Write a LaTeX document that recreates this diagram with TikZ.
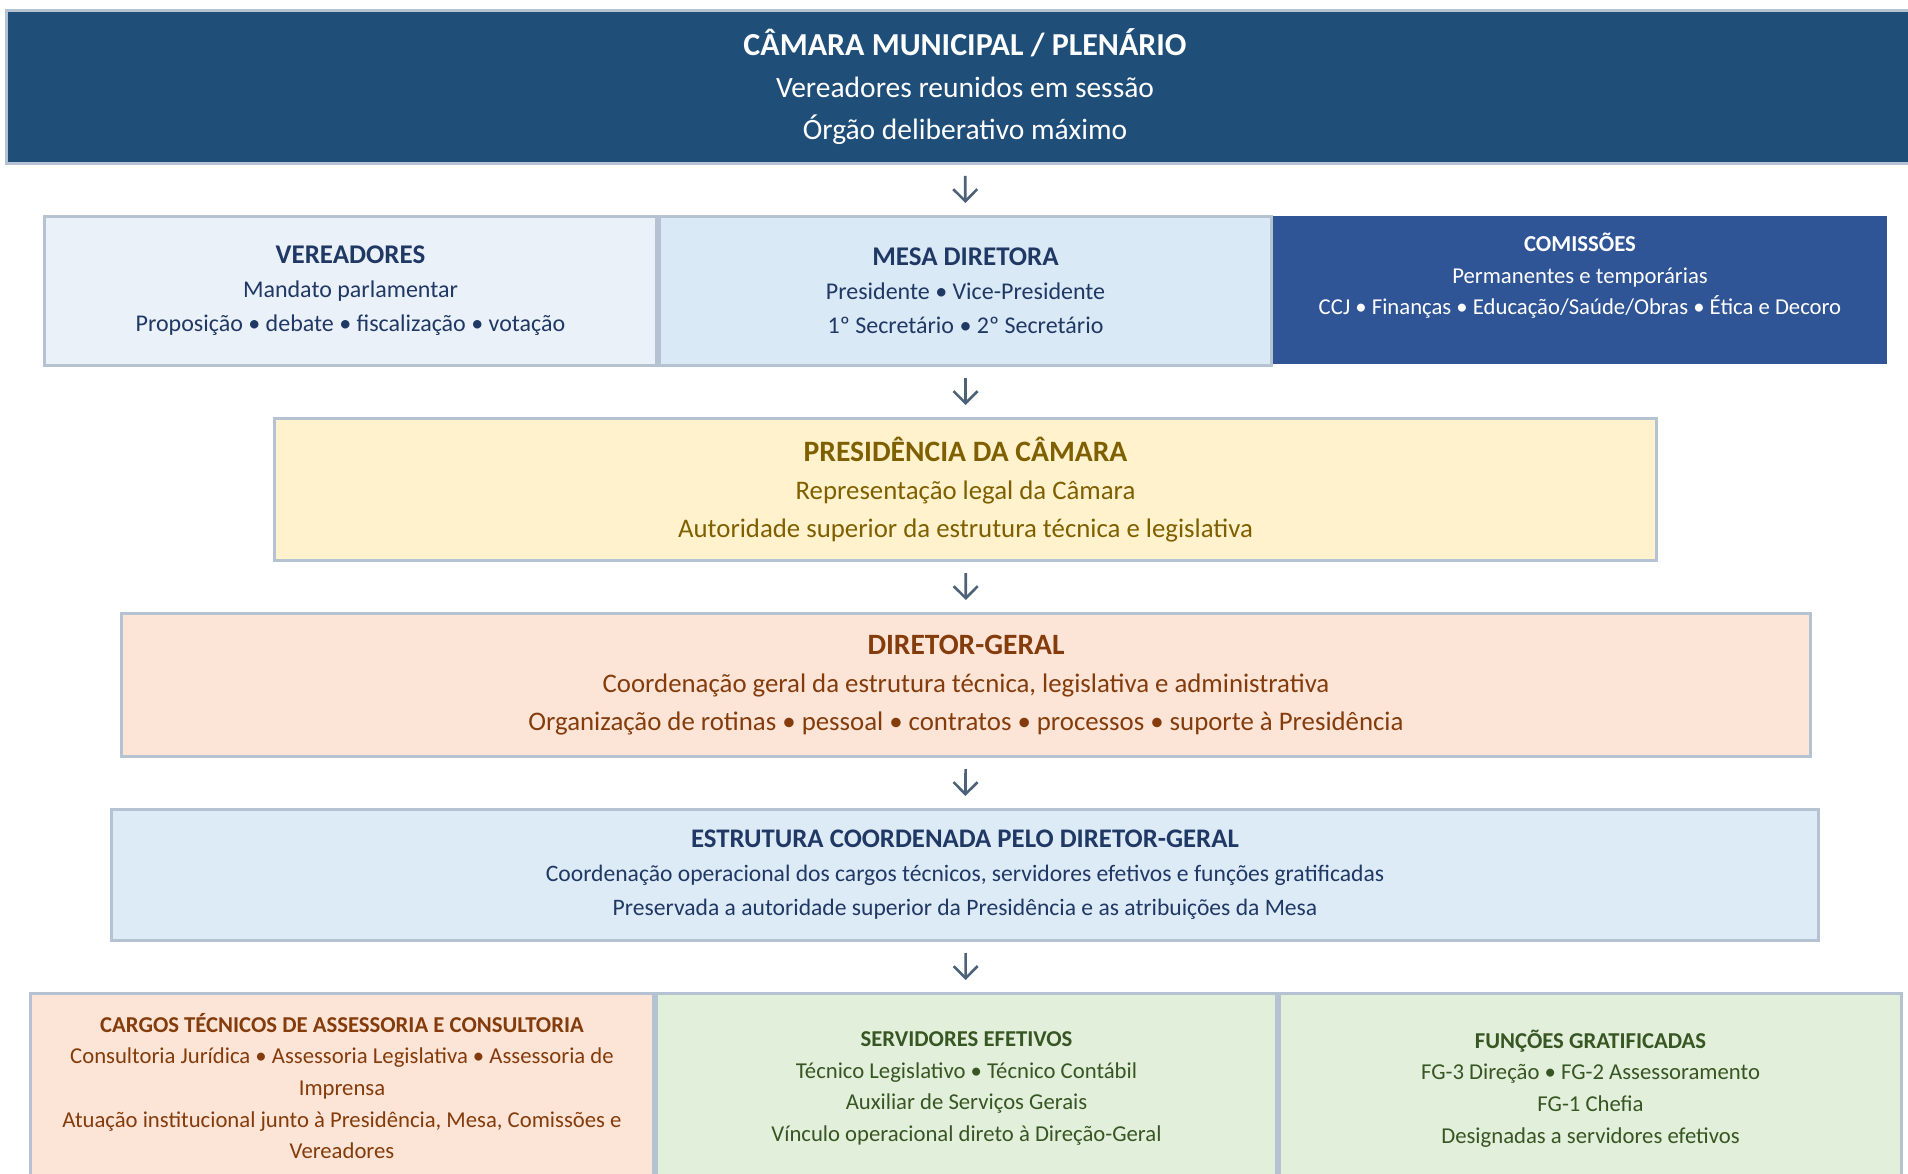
\documentclass[tikz,border=0pt]{standalone}
\usepackage{fontspec}
\setmainfont{Carlito}
\usetikzlibrary{arrows.meta}

\definecolor{borda}{HTML}{B4C2D1}
\definecolor{setacor}{HTML}{4D6278}
\definecolor{plenario}{HTML}{1F4E79}
\definecolor{vereador}{HTML}{EAF1F8}
\definecolor{mesadir}{HTML}{DAE9F6}
\definecolor{comissao}{HTML}{2F5597}
\definecolor{presid}{HTML}{FFF2CC}
\definecolor{diretor}{HTML}{FCE4D6}
\definecolor{estrut}{HTML}{DDEBF7}
\definecolor{verde}{HTML}{E2EFDA}
\definecolor{azultxt}{HTML}{1F3864}
\definecolor{ourotxt}{HTML}{7F6000}
\definecolor{marromtxt}{HTML}{843C0C}
\definecolor{verdetxt}{HTML}{375623}

\begin{document}
\begin{tikzpicture}[x=1pt,y=-1pt,
    caixa/.style={draw=borda,line width=3pt,inner sep=0pt,align=center},
    seta/.style={draw=setacor,line width=2.6pt,-{Straight Barb[length=12pt,width=24pt]},
      shorten <=11pt,shorten >=12pt}]
  \useasboundingbox (0,0) rectangle (1908,1174);
  \clip (0,0) rectangle (1908,1174);

  \node[caixa,fill=plenario,text=white,minimum width=1917pt,minimum height=153pt,
    font=\fontsize{29.5}{42}\selectfont] (plen) at (965,87)
    {{\bfseries\fontsize{32}{42}\selectfont CÂMARA MUNICIPAL / PLENÁRIO}\\
     Vereadores reunidos em sessão\\Órgão deliberativo máximo};

  \begin{scope}[every node/.append style={minimum width=612pt,minimum height=149pt,
      font=\fontsize{24}{34}\selectfont,text=azultxt}]
    \node[caixa,fill=vereador] (ver) at (350.5,291)
      {{\bfseries\fontsize{27}{34}\selectfont VEREADORES}\\Mandato parlamentar\\
       Proposição • debate • fiscalização • votação};
    \node[caixa,fill=mesadir] (mesa) at (965.5,291)
      {{\bfseries\fontsize{27}{34}\selectfont MESA DIRETORA}\\Presidente • Vice-Presidente\\
       1º Secretário • 2º Secretário};
  \end{scope}
  \node[fill=comissao,minimum width=614pt,minimum height=148pt,inner sep=0pt] (com) at (1580,290) {};
  \node[align=center,text=white,inner sep=0pt,font=\fontsize{22.7}{31.6}\selectfont] (comtxt)
    at ([yshift=14pt]com.center)
    {{\bfseries\fontsize{22.8}{31.6}\selectfont COMISSÕES}\\Permanentes e temporárias\\
     CCJ • Finanças • Educação/Saúde/Obras • Ética e Decoro};

  \node[caixa,fill=presid,text=ourotxt,minimum width=1382pt,minimum height=142pt,
    font=\fontsize{26.8}{38}\selectfont] (pres) at (965.5,489.5)
    {{\bfseries\fontsize{29.6}{38}\selectfont PRESIDÊNCIA DA CÂMARA}\\
     Representação legal da Câmara\\Autoridade superior da estrutura técnica e legislativa};

  \node[caixa,fill=diretor,text=marromtxt,minimum width=1689pt,minimum height=143pt,
    font=\fontsize{26.8}{38}\selectfont] (dir) at (966,685)
    {{\bfseries\fontsize{29.5}{38}\selectfont DIRETOR-GERAL}\\
     Coordenação geral da estrutura técnica, legislativa e administrativa\\
     Organização de rotinas • pessoal • contratos • processos • suporte à Presidência};

  \node[caixa,fill=estrut,text=azultxt,minimum width=1707pt,minimum height=131pt,
    font=\fontsize{23.6}{34}\selectfont] (estr) at (965,875)
    {{\bfseries\fontsize{26.8}{34}\selectfont ESTRUTURA COORDENADA PELO DIRETOR-GERAL}\\
     Coordenação operacional dos cargos técnicos, servidores efetivos e funções gratificadas\\
     Preservada a autoridade superior da Presidência e as atribuições da Mesa};

  \begin{scope}[every node/.append style={font=\fontsize{22.7}{31.6}\selectfont}]
    \node[caixa,fill=diretor,text=marromtxt,minimum width=623pt,minimum height=185pt] (cargos) at (342,1086)
      {{\bfseries CARGOS TÉCNICOS DE ASSESSORIA E CONSULTORIA}\\
       Consultoria Jurídica • Assessoria Legislativa • Assessoria de\\Imprensa\\
       Atuação institucional junto à Presidência, Mesa, Comissões e\\Vereadores};
    \node[caixa,fill=verde,text=verdetxt,minimum width=620pt,minimum height=190pt] (serv) at (966.5,1088.5)
      {{\bfseries SERVIDORES EFETIVOS}\\Técnico Legislativo • Técnico Contábil\\
       Auxiliar de Serviços Gerais\\Vínculo operacional direto à Direção-Geral};
    \node[caixa,fill=verde,text=verdetxt,minimum width=622pt,minimum height=190pt] (func) at (1590.5,1088.5)
      {{\bfseries FUNÇÕES GRATIFICADAS}\\FG-3 Direção • FG-2 Assessoramento\\
       FG-1 Chefia\\Designadas a servidores efetivos};
  \end{scope}

  \foreach \a/\b in {plen/mesa,mesa/pres,pres/dir,dir/estr,estr/serv}
    \draw[seta] (\a) -- (\b);
\end{tikzpicture}
\end{document}
